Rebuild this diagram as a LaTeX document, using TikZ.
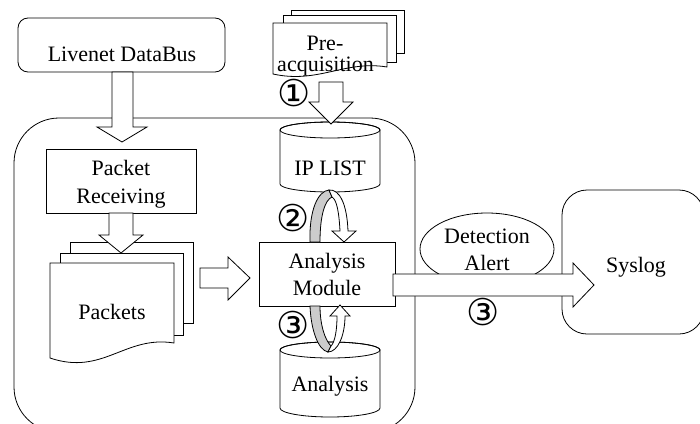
\documentclass[tikz,border=0pt]{standalone}
\usepackage{fontspec}
\setmainfont{Liberation Serif}
\newfontfamily\symfont{DejaVu Sans}
\usetikzlibrary{shapes.geometric}
\begin{document}
\begin{tikzpicture}[x=1pt,y=-1pt,line width=0.8pt,
  lbl/.style={font=\fontsize{22}{27}\selectfont, align=center, inner sep=0pt, anchor=base},
  num/.style={font=\symfont\fontsize{37}{37}\selectfont, inner sep=0pt},
  shp/.style={draw, fill=white},
  band/.style={draw, fill=black!20}]
\useasboundingbox (0,0) rectangle (700,423);

% container
\node[draw, rounded corners=45pt, minimum width=401pt, minimum height=314pt, inner sep=0pt] (sys) at (214.5,275) {};

% Livenet DataBus
\node[shp, rounded corners=10pt, minimum width=207pt, minimum height=54pt, inner sep=0pt] (bus) at (121.5,45) {};
\node[lbl] (bust) at (122,61) {Livenet DataBus};

% Pre-acquisition documents
\draw[shp] (291,10) rectangle (404,53);
\draw[shp] (283,15) rectangle (396,62);
\draw[shp] (273,23) -- (387,23) -- (387,67) .. controls (345,60) and (318,84) .. (273,74) -- cycle;
\node[lbl, font=\fontsize{22}{21}\selectfont] (pre1) at (325,50) {Pre-};
\node[lbl] (pre2) at (325.5,71) {acquisition};

% IP LIST cylinder
\draw[shp] (280,130) -- (280,184) arc[start angle=180,end angle=360,x radius=50pt,y radius=8pt] -- (380,130) arc[start angle=0,end angle=180,x radius=50pt,y radius=8pt] -- cycle;
\draw (330,130) ellipse[x radius=50pt,y radius=8pt];
\node[lbl] (ipl) at (330,175) {IP LIST};

% arrow DataBus -> container
\draw[shp] (112,72) -- (133,72) -- (133,127) -- (147,127) -- (122,142) -- (97,127) -- (112,127) -- cycle;
% arrow 1
\draw[shp] (319,82) -- (343,82) -- (343,102) -- (353,102) -- (331,124) -- (309,102) -- (319,102) -- cycle;
\node[num] (n1) at (294,93) {①};

% Packet Receiving
\node[shp, minimum width=150pt, minimum height=64pt, inner sep=0pt] (recv) at (121,181) {};
\node[lbl] (recv1) at (121,175) {Packet};
\node[lbl] (recv2) at (121,203) {Receiving};

% Packets documents
\draw[shp] (70,242) rectangle (193,323);
\draw[shp] (60,253) rectangle (183,335);
\draw[shp] (50,263) -- (174,263) -- (174,343) .. controls (125,335) and (103,376) .. (50,358) -- cycle;
\node[lbl] (pkt) at (112,319) {Packets};

% arrow recv -> packets
\draw[shp] (109,213) -- (133,213) -- (133,235) -- (143,235) -- (121,253) -- (99,235) -- (109,235) -- cycle;

% arrow packets -> module
\draw[shp] (200,268) -- (228,268) -- (228,257) -- (250,278) -- (228,300) -- (228,288) -- (200,288) -- cycle;

% Analysis Module
\node[shp, minimum width=136pt, minimum height=64pt, inner sep=0pt] (mod) at (327,274) {};
\node[lbl] (mod1) at (327,268) {Analysis};
\node[lbl] (mod2) at (327,295) {Module};

% Analysis cylinder
\draw[shp] (280,350) -- (280,408) arc[start angle=180,end angle=360,x radius=50pt,y radius=9pt] -- (380,350) arc[start angle=0,end angle=180,x radius=50pt,y radius=8pt] -- cycle;
\draw (330,350) ellipse[x radius=50pt,y radius=8pt];
\node[lbl] (ana) at (330,391) {Analysis};

% upper loop
\draw[band] (310,242) .. controls (309,210) and (318,191) .. (329,190) -- (332,197) .. controls (325,200) and (320,215) .. (320,242) -- cycle;
\draw[shp] (329,190) .. controls (340,189) and (347,205) .. (348,231) -- (356,231) -- (344,242) -- (332,231) -- (340,231) .. controls (339,213) and (337,200) .. (332,197) -- cycle;
\node[num] (n2) at (293,218) {②};

% lower loop
\draw[band] (310,306) .. controls (311,330) and (318,350) .. (328,352) -- (331,346) .. controls (325,340) and (320,325) .. (320,306) -- cycle;
\draw[shp] (328,352) .. controls (338,352) and (345,335) .. (345,316) -- (350,316) -- (340,305) -- (330,316) -- (337,316) .. controls (337,330) and (335,342) .. (331,346) -- cycle;
\node[num] (n3) at (293,325) {③};

% Syslog
\node[shp, rounded corners=25pt, minimum width=142pt, minimum height=144pt, inner sep=0pt] (syslog) at (633,262) {};
\node[lbl] (syst) at (636,272) {Syslog};

% Detection Alert
\node[shp, ellipse, minimum width=134pt, minimum height=72pt, inner sep=0pt] (alert) at (487,249) {};
\node[lbl] (al1) at (487,243) {Detection};
\node[lbl] (al2) at (487,270) {Alert};

% arrow module -> syslog
\draw[shp] (393,274) -- (573,274) -- (573,263) -- (594,285) -- (573,307) -- (573,296) -- (393,296) -- cycle;
\node[num] (n4) at (483,312) {③};
\end{tikzpicture}
\end{document}
